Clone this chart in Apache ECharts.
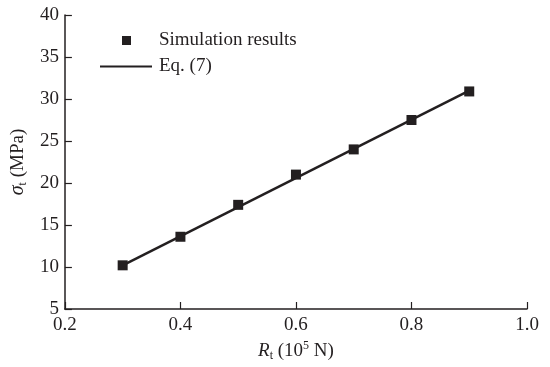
<!DOCTYPE html>
<html>
<head>
<meta charset="utf-8">
<script src="https://cdn.jsdelivr.net/npm/echarts@6/dist/echarts.min.js"></script>
<style>html,body{margin:0;padding:0;background:#fff}#c{width:550px;height:367px}</style>
</head>
<body>
<div id="c"></div>
<script>
var xValues = [0.3, 0.4, 0.5, 0.6, 0.7, 0.8, 0.9];
var simValues = [10.2, 13.6, 17.4, 21.0, 24.0, 27.5, 30.9];
var eqX = [0.3, 0.9];
var eqValues = [10.2, 31.0];
var xTicks = [0.2, 0.4, 0.6, 0.8, 1.0];
var yTicks = [5, 10, 15, 20, 25, 30, 35, 40];

var FONT = '"Liberation Serif", "Times New Roman", serif';
var INK = '#231f20';

var chart = echarts.init(document.getElementById('c'), null, {renderer: 'canvas'});
chart.setOption({
  animation: false,
  backgroundColor: '#fff',
  textStyle: {fontFamily: FONT, color: INK},
  grid: {left: 63, right: 23, top: 15, bottom: 54, containLabel: false},
  legend: [
    {
      data: [{name: 'Simulation results', icon: 'rect'}],
      left: 117, top: 26, itemWidth: 9, itemHeight: 9,
      textStyle: {fontFamily: FONT, fontSize: 19, color: INK, padding: [0, 0, 0, 23]}
    },
    {
      data: [{name: 'Eq. (7)', icon: 'rect'}],
      left: 95, top: 52, itemWidth: 52, itemHeight: 2,
      itemGap: 0,
      textStyle: {fontFamily: FONT, fontSize: 19, color: INK, padding: [0, 0, 0, 2]}
    }
  ],
  xAxis: {
    type: 'value',
    min: xTicks[0], max: xTicks[xTicks.length - 1], interval: 0.2,
    name: '{i|R}{sub|t}{n| (10}{sup|5}{n| N)}',
    nameLocation: 'middle', nameGap: 31,
    nameTextStyle: {
      rich: {
        i: {fontFamily: FONT, fontSize: 19, fontStyle: 'italic', color: INK, lineHeight: 22, verticalAlign: 'middle'},
        n: {fontFamily: FONT, fontSize: 19, color: INK, lineHeight: 22, verticalAlign: 'middle'},
        sub: {fontFamily: FONT, fontSize: 12, color: INK, lineHeight: 9, verticalAlign: 'bottom'},
        sup: {fontFamily: FONT, fontSize: 12, color: INK, lineHeight: 9, verticalAlign: 'top'}
      }
    },
    axisLine: {show: true, onZero: false, lineStyle: {color: INK, width: 1.5}},
    axisTick: {show: true, inside: true, length: 7, lineStyle: {color: INK, width: 1.2}},
    axisLabel: {fontFamily: FONT, fontSize: 19, color: INK, margin: 7,
      formatter: function (v) { return v.toFixed(1); }},
    splitLine: {show: false}
  },
  yAxis: {
    type: 'value',
    min: yTicks[0], max: yTicks[yTicks.length - 1], interval: 5,
    name: '{i|σ}{sub|t}{n| (MPa)}',
    nameLocation: 'middle', nameGap: 27, nameRotate: 90,
    nameTextStyle: {
      rich: {
        i: {fontFamily: FONT, fontSize: 20, fontStyle: 'italic', color: INK, lineHeight: 22, verticalAlign: 'middle'},
        n: {fontFamily: FONT, fontSize: 19, color: INK, lineHeight: 22, verticalAlign: 'middle'},
        sub: {fontFamily: FONT, fontSize: 12, color: INK, lineHeight: 9, verticalAlign: 'bottom'}
      }
    },
    axisLine: {show: true, onZero: false, lineStyle: {color: INK, width: 1.5}},
    axisTick: {show: true, inside: true, length: 7, lineStyle: {color: INK, width: 1.2}},
    axisLabel: {fontFamily: FONT, fontSize: 19, color: INK, margin: 6},
    splitLine: {show: false}
  },
  series: [
    {
      name: 'Eq. (7)',
      type: 'line',
      data: eqX.map(function (x, i) { return [x, eqValues[i]]; }),
      symbol: 'none',
      lineStyle: {color: INK, width: 2.5},
      itemStyle: {color: INK},
      z: 2
    },
    {
      name: 'Simulation results',
      type: 'scatter',
      data: xValues.map(function (x, i) { return [x, simValues[i]]; }),
      symbol: 'rect',
      symbolSize: 10,
      itemStyle: {color: INK, opacity: 1},
      z: 3
    }
  ]
});
</script>
</body>
</html>
